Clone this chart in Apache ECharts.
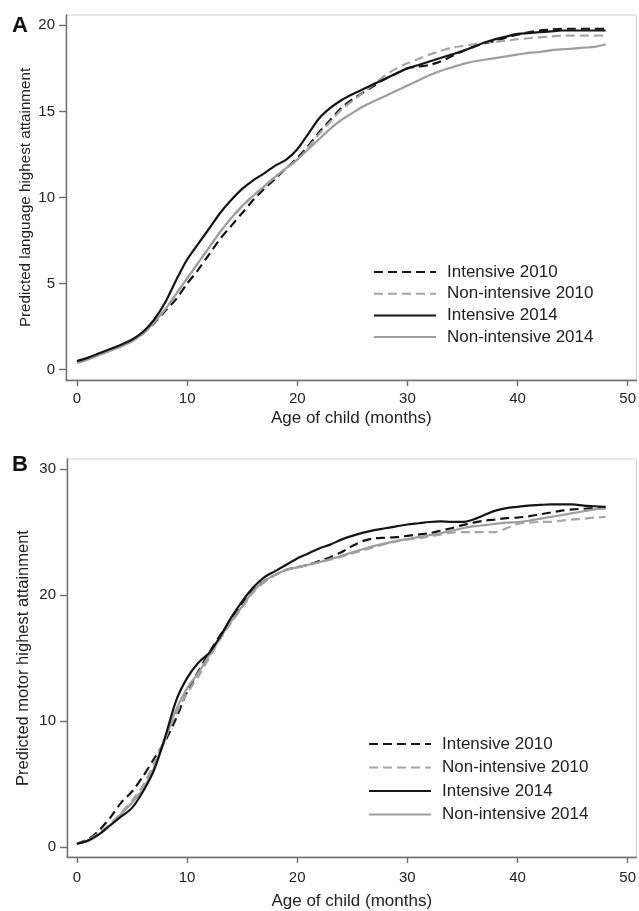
<!DOCTYPE html>
<html>
<head>
<meta charset="utf-8">
<script src="https://cdn.jsdelivr.net/npm/echarts@6/dist/echarts.min.js"></script>
<style>
html,body{margin:0;padding:0;background:#fff;}
#chart{width:639px;height:911px;}
</style>
</head>
<body>
<div id="chart"></div>
<script>
// Age of child (months)
const months = [0,1,2,3,4,5,6,7,8,9,10,11,12,13,14,15,16,17,18,19,20,21,22,23,24,25,26,27,28,29,30,31,32,33,34,35,36,37,38,39,40,41,42,43,44,45,46,47,48];
const seriesNames = ['Intensive 2010','Non-intensive 2010','Intensive 2014','Non-intensive 2014'];
const xTicks = [0,10,20,30,40,50];
const yTicksA = [0,5,10,15,20];
const yTicksB = [0,10,20,30];

// Panel A: predicted language highest attainment
const langIntensive2010 = [0.45,0.65,0.9,1.15,1.4,1.7,2.1,2.7,3.4,4.1,5.0,5.8,6.7,7.6,8.35,9.1,9.85,10.5,11.1,11.7,12.3,13.0,13.8,14.5,15.2,15.7,16.1,16.5,16.9,17.2,17.5,17.6,17.7,17.9,18.2,18.5,18.75,18.95,19.1,19.3,19.45,19.6,19.7,19.75,19.8,19.8,19.8,19.8,19.8];
const langNonIntensive2010 = [0.4,0.6,0.85,1.1,1.35,1.65,2.1,2.75,3.5,4.4,5.3,6.2,7.1,8.0,8.8,9.5,10.1,10.65,11.2,11.7,12.2,12.9,13.7,14.4,15.1,15.6,16.1,16.6,17.1,17.5,17.8,18.05,18.3,18.5,18.7,18.8,18.9,19.0,19.05,19.1,19.2,19.25,19.3,19.35,19.4,19.4,19.4,19.4,19.4];
const langIntensive2014 = [0.5,0.7,0.95,1.2,1.45,1.75,2.2,2.9,3.9,5.2,6.4,7.3,8.2,9.1,9.85,10.5,11.0,11.4,11.85,12.2,12.8,13.7,14.6,15.2,15.65,16.0,16.3,16.6,16.9,17.2,17.5,17.7,17.9,18.1,18.3,18.5,18.75,19.0,19.2,19.35,19.5,19.55,19.6,19.65,19.7,19.7,19.7,19.7,19.7];
const langNonIntensive2014 = [0.4,0.6,0.85,1.1,1.35,1.65,2.1,2.75,3.5,4.4,5.3,6.2,7.1,8.0,8.8,9.5,10.1,10.65,11.2,11.7,12.2,12.8,13.4,14.0,14.5,14.9,15.3,15.6,15.9,16.2,16.5,16.8,17.1,17.35,17.55,17.75,17.9,18.0,18.1,18.2,18.3,18.4,18.45,18.55,18.6,18.65,18.7,18.75,18.9];

// Panel B: predicted motor highest attainment
const motorIntensive2010 = [0.25,0.6,1.3,2.3,3.5,4.4,5.6,7.0,8.4,10.2,12.3,13.9,15.4,16.8,18.0,19.3,20.4,21.1,21.6,22.0,22.2,22.4,22.7,23.0,23.4,23.9,24.3,24.5,24.55,24.6,24.7,24.8,24.9,25.1,25.3,25.55,25.75,25.9,26.0,26.1,26.15,26.25,26.4,26.55,26.7,26.8,26.85,26.9,26.9];
const motorNonIntensive2010 = [0.25,0.55,1.1,1.8,2.7,3.7,4.9,6.6,8.6,10.6,12.2,13.5,15.0,16.5,17.8,19.0,20.2,21.0,21.6,22.0,22.2,22.4,22.6,22.8,23.05,23.3,23.55,23.8,24.05,24.25,24.4,24.5,24.65,24.8,24.95,25.0,25.0,25.0,25.0,25.3,25.65,25.75,25.8,25.8,25.9,26.0,26.05,26.15,26.2];
const motorIntensive2014 = [0.25,0.5,1.0,1.7,2.4,3.1,4.4,6.1,8.7,11.6,13.4,14.6,15.4,16.7,18.2,19.5,20.6,21.4,21.9,22.4,22.9,23.3,23.7,24.0,24.4,24.7,24.95,25.15,25.3,25.45,25.6,25.7,25.8,25.85,25.8,25.8,26.0,26.35,26.7,26.9,27.0,27.1,27.15,27.2,27.2,27.2,27.1,27.05,27.0];
const motorNonIntensive2014 = [0.25,0.5,1.0,1.7,2.6,3.5,4.6,6.3,8.5,10.9,12.6,13.8,15.2,16.6,17.9,19.1,20.3,21.1,21.6,22.0,22.2,22.4,22.6,22.85,23.1,23.4,23.65,23.9,24.1,24.3,24.45,24.6,24.75,24.9,25.1,25.3,25.45,25.55,25.65,25.75,25.8,25.9,26.05,26.2,26.35,26.5,26.65,26.8,26.9];

const FONT = '"Liberation Sans", Arial, Helvetica, sans-serif';
const styles = [
  {color:'#151515', width:2.2, type:[9,5]},
  {color:'#a6a6a6', width:2.2, type:[9,5]},
  {color:'#151515', width:2.2, type:'solid'},
  {color:'#9e9e9e', width:2.2, type:'solid'}
];
function pairs(ys){ return months.map((m,i)=>[m, ys[i]]); }
function mkSeries(dataArr, idx){
  return dataArr.map((ys,k)=>({
    name: seriesNames[k], type:'line', xAxisIndex:idx, yAxisIndex:idx,
    data: pairs(ys), symbol:'none', showSymbol:false, smooth:0.3,
    lineStyle:{color:styles[k].color, width:styles[k].width, type:styles[k].type},
    itemStyle:{color:styles[k].color},
    z: k===2 ? 4 : 3,
    animation:false
  }));
}
const axisLineStyle = {color:'#6e6e6e', width:1.4};
function xAxisCfg(gi, min, max, margin, nameGap){
  return {type:'value', gridIndex:gi, min:min, max:max,
    name:'Age of child (months)', nameLocation:'middle', nameGap:nameGap, nameMoveOverlap:false,
    nameTextStyle:{fontFamily:FONT, fontSize:17, color:'#222'},
    axisLine:{show:true, onZero:false, lineStyle:axisLineStyle},
    axisTick:{show:true, length:6, lineStyle:axisLineStyle, customValues:xTicks},
    axisLabel:{fontFamily:FONT, fontSize:15, color:'#222', margin:margin, customValues:xTicks},
    splitLine:{show:false}};
}
function yAxisCfg(gi, min, max, ticks, name, nameGap, nameSize){
  return {type:'value', gridIndex:gi, min:min, max:max,
    name:name, nameLocation:'middle', nameGap:nameGap, nameRotate:90, nameMoveOverlap:false,
    nameTextStyle:{fontFamily:FONT, fontSize:nameSize, color:'#222'},
    axisLine:{show:true, onZero:false, lineStyle:axisLineStyle},
    axisTick:{show:true, length:7, lineStyle:axisLineStyle, customValues:ticks},
    axisLabel:{fontFamily:FONT, fontSize:15, color:'#222', margin:11, customValues:ticks},
    splitLine:{show:false}};
}
function legendCfg(left, top, gap){
  return {show:true, orient:'vertical', left:left, top:top, data:seriesNames,
    padding:0, itemWidth:62, itemHeight:14, itemGap:gap, selectedMode:false,
    itemStyle:{color:'rgba(0,0,0,0)', borderWidth:0, opacity:0},
    textStyle:{fontFamily:FONT, fontSize:17, color:'#222', lineHeight:17, padding:[0,0,0,6]}};
}

const chart = echarts.init(document.getElementById('chart'), null, {renderer:'canvas'});
chart.setOption({
  backgroundColor:'#fff',
  animation:false,
  grid:[
    {left:66, top:15, width:571, height:365, show:true, borderColor:'#cfcfcf', borderWidth:1, containLabel:false},
    {left:67, top:459, width:570, height:398, show:true, borderColor:'#cfcfcf', borderWidth:1, containLabel:false}
  ],
  xAxis:[ xAxisCfg(0, -1, 50.8, 11, 30), xAxisCfg(1, -0.9, 50.8, 13, 36) ],
  yAxis:[
    yAxisCfg(0, -0.6, 20.6, yTicksA, 'Predicted language highest attainment', 33, 15.2),
    yAxisCfg(1, -0.8, 30.8, yTicksB, 'Predicted motor highest attainment', 35, 16.5)
  ],
  legend:[ legendCfg(373, 263.5, 4.7), legendCfg(368, 735.5, 6.5) ],
  graphic:[
    {type:'text', left:12, top:15, style:{text:'A', font:'bold 22px ' + FONT, fill:'#111'}},
    {type:'text', left:12, top:454, style:{text:'B', font:'bold 22px ' + FONT, fill:'#111'}}
  ],
  series: mkSeries([langIntensive2010, langNonIntensive2010, langIntensive2014, langNonIntensive2014], 0)
    .concat(mkSeries([motorIntensive2010, motorNonIntensive2010, motorIntensive2014, motorNonIntensive2014], 1))
});
</script>
</body>
</html>
